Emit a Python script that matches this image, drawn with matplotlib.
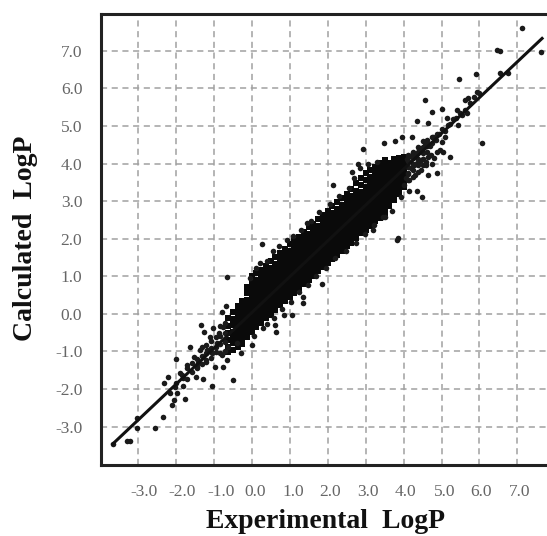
import matplotlib
matplotlib.use("Agg")
import matplotlib.pyplot as plt
from matplotlib.transforms import ScaledTranslation

TICKS_X = [-3, -2, -1, 0, 1, 2, 3, 4, 5, 6, 7]
TICKS_Y = [-3, -2, -1, 0, 1, 2, 3, 4, 5, 6, 7]
LABELS_X = ["-3.0", "-2.0", "-1.0", "0.0", "1.0", "2.0", "3.0", "4.0", "5.0", "6.0", "7.0"]
LABELS_Y = ["-3.0", "-2.0", "-1.0", "0.0", "1.0", "2.0", "3.0", "4.0", "5.0", "6.0", "7.0"]

FIT_X = [-3.67, 7.65]
FIT_Y = [-3.46, 7.33]

SPARSE_X = [7.12, 6.46, 6.54, 7.62, 5.91, 5.47, 6.54, 6.75, 4.56, 5.71, 5.93, 5.62, 4.35, 6.07,
            2.93, 3.48, 3.77, 3.95, 4.21, 4.74, 5.00, 4.65, 5.14, 5.40, 5.66, 5.44, 4.87, 5.22,
            4.87, 4.63, 4.35, 4.48, 4.74, 2.15, 2.63, 2.80, 3.85, 1.44, 3.51, 3.19,
            0.26, -0.65, 3.82, 1.84, 1.34, 1.34, 0.84, 1.05, 0.63, 0.61, 0.39, -0.01, -0.30,
            -0.51, -1.06, -0.76, -1.35, -1.26, -1.99, -2.21, -2.32, -1.83, -1.48, -1.30, -1.76,
            -2.12, -2.34, -2.55, -3.04, -3.04, -3.29, -3.22, -3.67, -0.69, -0.80, -1.03, -1.64,
            -1.37, -0.93, -0.76, -1.20, -0.98, -1.72, -1.90, -1.46, -0.67, -0.63, -0.40,
            -1.10, -0.88, -1.52, -1.18, -0.80, -1.42, -1.05, -2.02, -1.85, -1.98]
SPARSE_Y = [7.62, 7.02, 6.99, 6.98, 6.39, 6.24, 6.41, 6.41, 5.68, 5.74, 5.91, 5.69, 5.13, 4.55,
            4.40, 4.55, 4.61, 4.70, 4.70, 5.38, 5.44, 5.07, 5.20, 5.43, 5.34, 5.03, 4.80, 4.18,
            3.74, 3.70, 3.27, 3.12, 3.99, 3.43, 3.77, 3.99, 2.02, 2.43, 2.59, 2.23,
            1.86, 0.97, 1.97, 0.79, 0.46, 0.28, -0.04, -0.04, -0.49, -0.29, -0.27, -0.83, -1.03,
            -1.77, -1.91, -1.40, -0.29, -0.47, -1.19, -1.67, -1.83, -1.93, -1.69, -1.73, -2.27,
            -2.42, -2.75, -3.04, -2.77, -3.04, -3.38, -3.38, -3.46, 0.21, 0.06, -0.37, -0.87,
            -0.96, -0.77, -0.34, -1.27, -1.40, -1.36, -1.57, -1.40, -1.22, -0.87, -0.77,
            -0.62, -0.50, -1.15, -0.95, -1.10, -1.30, -1.05, -1.95, -1.62, -2.10]

# upper tail, thins out past 4.5
TAIL_X = [4.05, 4.12, 4.20, 4.28, 4.35, 4.42, 4.50, 4.58, 4.65, 4.72, 4.80, 4.88, 4.95, 5.02, 5.10,
          4.10, 4.18, 4.25, 4.33, 4.40, 4.48, 4.55, 4.62, 4.70, 4.78, 4.85, 4.92, 5.00, 5.08, 5.18,
          4.02, 4.15, 4.30, 4.45, 4.60, 5.05, 5.22, 5.30, 5.38, 5.48, 5.55, 5.62, 5.75, 5.85, 5.98,
          4.12, 4.12, 4.12, 4.12, 4.12, 4.25, 4.25, 4.25, 4.25, 4.25, 4.38, 4.38, 4.38, 4.38, 4.38,
          4.50, 4.50, 4.50, 4.50, 4.50, 4.62, 4.62, 4.62, 4.75, 4.75]
TAIL_Y = [3.62, 3.75, 3.88, 3.95, 4.02, 4.08, 4.12, 4.05, 4.18, 4.22, 4.15, 4.30, 4.35, 4.58, 4.70,
          4.12, 4.20, 4.28, 4.22, 4.38, 4.42, 4.50, 4.55, 4.48, 4.72, 4.62, 4.80, 4.92, 4.88, 5.02,
          3.42, 3.55, 3.70, 3.82, 3.95, 4.30, 5.06, 5.18, 5.22, 5.35, 5.30, 5.42, 5.62, 5.78, 5.88,
          3.55, 3.72, 3.90, 4.08, 4.22, 3.65, 3.82, 4.00, 4.15, 4.32, 3.78, 3.95, 4.12, 4.30, 4.45,
          3.95, 4.12, 4.28, 4.45, 4.60, 4.30, 4.46, 4.62, 4.55, 4.70]

# lower end of the band where it narrows to the line
TAPER_X = [-0.72, -0.72, -0.72, -0.72, -0.84, -0.84, -0.84, -0.84, -0.96, -0.96, -0.96, -1.08, -1.08, -1.08,
           -1.20, -1.20, -1.20, -1.32, -1.32, -1.32, -1.45, -1.45, -1.58, -1.58, -1.70, -1.70, -1.82,
           -2.00, -2.15, -2.05]
TAPER_Y = [-0.98, -0.74, -0.50, -0.25, -1.05, -0.80, -0.58, -0.32, -1.02, -0.88, -0.62, -1.18, -0.92, -0.72,
           -1.22, -1.05, -0.82, -1.32, -1.12, -0.88, -1.45, -1.20, -1.55, -1.30, -1.72, -1.45, -1.70,
           -1.85, -2.10, -2.30]

# dense band, one list of calculated values per experimental column
BAND_X = [-0.62, -0.50, -0.38, -0.25, -0.12, 0.00, 0.12, 0.25, 0.38, 0.50, 0.62, 0.75, 0.88, 1.00,
          1.12, 1.25, 1.38, 1.50, 1.62, 1.75, 1.88, 2.00, 2.12, 2.25, 2.38, 2.50, 2.62, 2.75,
          2.88, 3.00, 3.12, 3.25, 3.38, 3.50, 3.62, 3.75, 3.88, 4.00]
BAND_Y = [
    [-1.02, -0.88, -0.70, -0.52, -0.31, -0.12],
    [-0.95, -0.78, -0.62, -0.47, -0.30, -0.14, 0.05],
    [-0.88, -0.72, -0.58, -0.42, -0.27, -0.12, 0.04, 0.22],
    [-0.80, -0.66, -0.51, -0.37, -0.22, -0.08, 0.07, 0.20, 0.34],
    [-0.62, -0.48, -0.35, -0.21, -0.07, 0.08, 0.22, 0.37, 0.55, 0.72],
    [-0.48, -0.33, -0.19, -0.05, 0.09, 0.22, 0.36, 0.50, 0.66, 0.82, 1.02],
    [-0.36, -0.22, -0.08, 0.06, 0.20, 0.34, 0.47, 0.61, 0.75, 0.90, 1.08],
    [-0.24, -0.10, 0.04, 0.18, 0.31, 0.45, 0.58, 0.72, 0.86, 1.00, 1.18],
    [-0.12, 0.03, 0.17, 0.30, 0.44, 0.57, 0.71, 0.85, 0.98, 1.12, 1.28],
    [-0.02, 0.12, 0.26, 0.40, 0.54, 0.67, 0.81, 0.95, 1.08, 1.22, 1.40],
    [0.10, 0.24, 0.38, 0.52, 0.65, 0.79, 0.92, 1.06, 1.20, 1.33, 1.52],
    [0.24, 0.37, 0.50, 0.63, 0.76, 0.90, 1.03, 1.17, 1.31, 1.45, 1.62],
    [0.34, 0.48, 0.61, 0.75, 0.88, 1.01, 1.15, 1.28, 1.42, 1.56, 1.72],
    [0.46, 0.60, 0.73, 0.87, 1.00, 1.13, 1.27, 1.40, 1.54, 1.68, 1.85],
    [0.56, 0.70, 0.84, 0.97, 1.10, 1.24, 1.37, 1.51, 1.65, 1.78, 1.95],
    [0.70, 0.83, 0.96, 1.09, 1.22, 1.36, 1.49, 1.63, 1.76, 1.90, 2.05],
    [0.80, 0.94, 1.07, 1.21, 1.34, 1.47, 1.60, 1.74, 1.87, 2.01, 2.18],
    [0.90, 1.04, 1.18, 1.31, 1.45, 1.58, 1.72, 1.85, 1.98, 2.12, 2.30],
    [1.02, 1.16, 1.29, 1.43, 1.56, 1.69, 1.83, 1.96, 2.09, 2.23, 2.40],
    [1.14, 1.28, 1.41, 1.55, 1.68, 1.81, 1.94, 2.07, 2.21, 2.35, 2.52],
    [1.24, 1.38, 1.52, 1.65, 1.78, 1.92, 2.05, 2.18, 2.32, 2.46, 2.62],
    [1.36, 1.50, 1.63, 1.77, 1.90, 2.03, 2.16, 2.30, 2.43, 2.57, 2.75],
    [1.46, 1.60, 1.74, 1.87, 2.00, 2.14, 2.27, 2.41, 2.54, 2.68, 2.86],
    [1.58, 1.72, 1.85, 1.99, 2.12, 2.25, 2.38, 2.52, 2.65, 2.79, 2.98],
    [1.68, 1.82, 1.96, 2.09, 2.23, 2.36, 2.50, 2.63, 2.77, 2.90, 3.08],
    [1.80, 1.94, 2.08, 2.21, 2.34, 2.48, 2.61, 2.75, 2.88, 3.02, 3.20],
    [1.90, 2.05, 2.19, 2.33, 2.46, 2.60, 2.73, 2.87, 3.00, 3.14, 3.32],
    [2.02, 2.16, 2.30, 2.44, 2.57, 2.71, 2.85, 2.98, 3.12, 3.28, 3.48],
    [2.14, 2.28, 2.42, 2.56, 2.70, 2.83, 2.97, 3.11, 3.25, 3.42, 3.62],
    [2.24, 2.38, 2.53, 2.67, 2.81, 2.95, 3.09, 3.23, 3.37, 3.55, 3.75],
    [2.34, 2.50, 2.64, 2.78, 2.92, 3.06, 3.20, 3.34, 3.48, 3.64, 3.82],
    [2.46, 2.62, 2.76, 2.90, 3.04, 3.18, 3.32, 3.46, 3.60, 3.76, 3.92],
    [2.56, 2.72, 2.87, 3.01, 3.15, 3.29, 3.43, 3.57, 3.72, 3.88, 4.02],
    [2.68, 2.84, 2.99, 3.13, 3.27, 3.41, 3.55, 3.69, 3.83, 3.98, 4.10],
    [2.86, 3.02, 3.18, 3.33, 3.47, 3.60, 3.74, 3.88, 4.02],
    [3.02, 3.18, 3.33, 3.47, 3.60, 3.74, 3.88, 4.02, 4.12],
    [3.20, 3.35, 3.50, 3.62, 3.76, 3.90, 4.04, 4.14],
    [3.38, 3.52, 3.66, 3.80, 3.94, 4.06, 4.18],
]

# rough outer edge of the band, both sides
EDGE_X = [-0.05, 0.10, 0.22, 0.40, 0.55, 0.72, 0.92, 1.08, 1.30, 1.55, 1.78, 2.05, 2.30, 2.55, 2.70,
          2.85, 3.05, 3.30, 0.05, 0.30, 0.58, 0.78, 1.02, 1.25, 1.48, 1.70, 1.95, 2.20, 2.48, 2.75,
          2.98, 3.22, 3.45, 3.68, 3.92, 4.15]
EDGE_Y = [0.95, 1.22, 1.35, 1.42, 1.68, 1.82, 1.98, 2.08, 2.22, 2.48, 2.70, 2.92, 3.15, 3.36, 3.62,
          3.88, 3.98, 4.05, -0.58, -0.38, -0.10, 0.12, 0.32, 0.58, 0.78, 1.00, 1.22, 1.48, 1.68, 1.90,
          2.12, 2.36, 2.58, 2.74, 3.10, 3.28]

FIG_W, FIG_H = 547, 536
# label offsets in px from their grid line, the original labels sit off the grid
LABEL_SHIFT_X = [6, 6, 7, 3, 3, 2, 2, 2, 3, 2, 2]


def main() -> None:
    plt.rcParams["font.family"] = ["Liberation Serif", "DejaVu Serif"]
    fig = plt.figure(figsize=(FIG_W / 100, FIG_H / 100), dpi=100)
    ax = fig.add_axes([101 / FIG_W, (FIG_H - 465) / FIG_H, (FIG_W - 101) / FIG_W, 451 / FIG_H])

    ax.set_xlim(-3.98, 7.78)
    ax.set_ylim(-4.02, 7.98)

    band_x = [x for x, col in zip(BAND_X, BAND_Y) for _ in col]
    band_y = [y for col in BAND_Y for y in col]
    ax.scatter(band_x, band_y, s=21, marker="s", color="#0a0a0a", linewidths=0, zorder=3)
    for xs, ys in [(SPARSE_X, SPARSE_Y), (TAIL_X, TAIL_Y), (TAPER_X, TAPER_Y), (EDGE_X, EDGE_Y)]:
        ax.scatter(xs, ys, s=16, marker="o", color="#1a1a1a", linewidths=0, zorder=3)
    ax.plot(FIT_X, FIT_Y, color="#111111", linewidth=2.2, zorder=4)

    ax.set_xticks(TICKS_X, LABELS_X)
    ax.set_yticks(TICKS_Y, LABELS_Y)
    ax.tick_params(length=0, labelsize=12.5, labelcolor="#666666")
    ax.tick_params(axis="x", pad=14)
    ax.tick_params(axis="y", pad=13.5)
    for label, shift in zip(ax.get_xticklabels(), LABEL_SHIFT_X):
        label.set_transform(label.get_transform() + ScaledTranslation(shift / 100, 0, fig.dpi_scale_trans))

    ax.grid(True, color="#a0a0a0", linewidth=1.1, linestyle=(0, (4, 3)), zorder=1)
    ax.set_axisbelow(True)

    for name in ["left", "top", "bottom"]:
        ax.spines[name].set_linewidth(2.2)
        ax.spines[name].set_color("#222222")
    ax.spines["right"].set_visible(False)

    fig.text(326 / FIG_W, (FIG_H - 522) / FIG_H, "Experimental  LogP", fontsize=20,
             fontweight="bold", ha="center", va="center", color="#111111")
    fig.text(26 / FIG_W, (FIG_H - 238) / FIG_H, "Calculated  LogP", fontsize=20,
             fontweight="bold", rotation=90, ha="center", va="center", color="#111111")

    fig.savefig("out.png", dpi=100)
    plt.close(fig)


if __name__ == "__main__":
    main()
